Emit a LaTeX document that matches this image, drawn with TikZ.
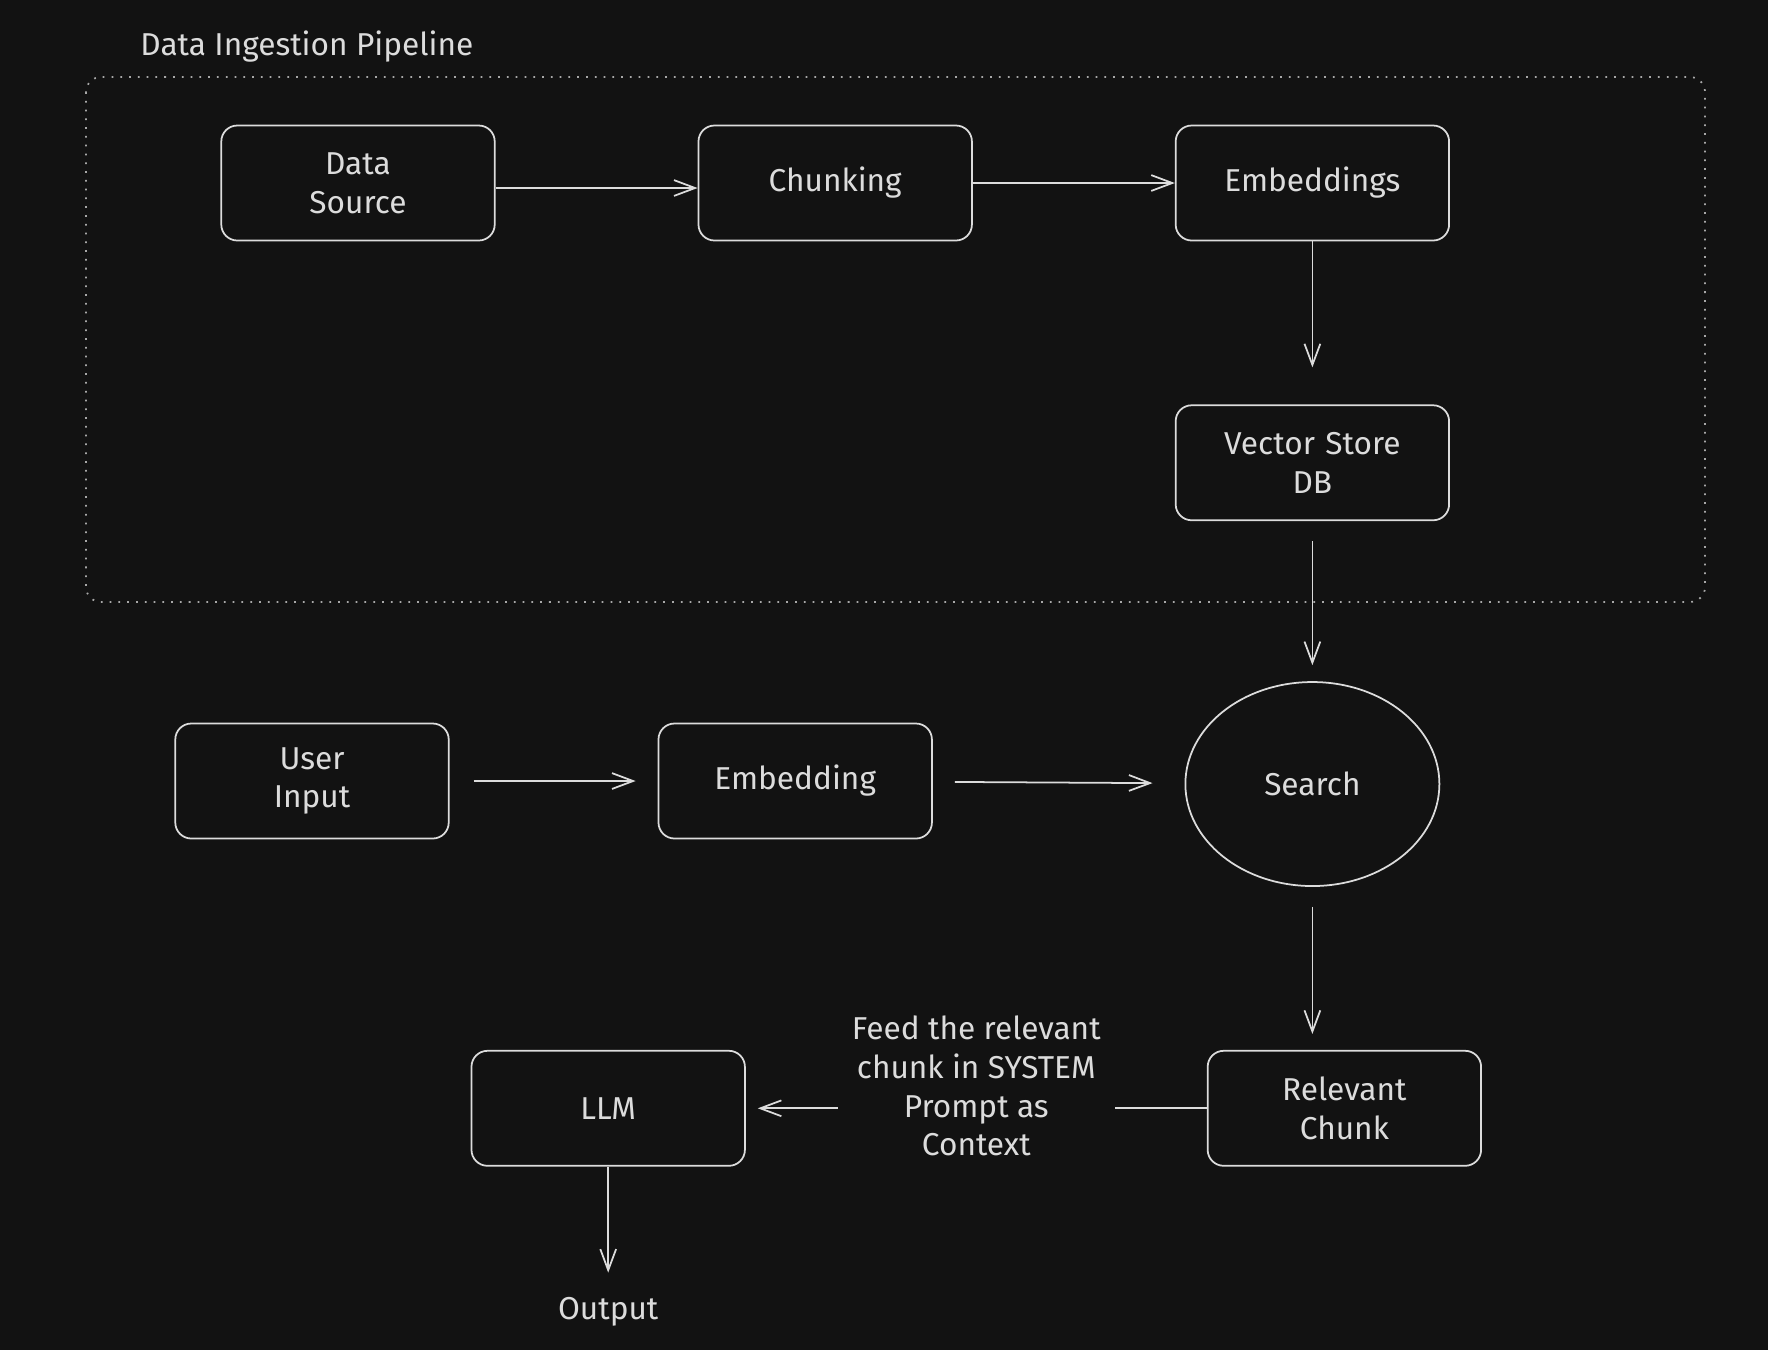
\documentclass[tikz,border=0pt]{standalone}
\usepackage{fontspec}
\setmainfont{Fira Sans}
\usetikzlibrary{positioning,shapes.geometric,arrows.meta}
\definecolor{canvas}{HTML}{121212}
\definecolor{ink}{HTML}{DCDCDC}
\definecolor{frameink}{HTML}{A8A8A8}

\begin{document}
\begin{tikzpicture}[stage/.style={rectangle, draw=ink, rounded corners=0.16cm, line width=0.5pt, text=ink, text width=2.5cm, align=center, minimum width=2.69cm, minimum height=1.15cm, font=\fontsize{9}{11}\selectfont},
    hub/.style={ellipse, draw=ink, line width=0.5pt, text=ink, minimum width=2.54cm, minimum height=2.04cm, font=\fontsize{9}{11}\selectfont},
    plain/.style={text=ink, align=center, font=\fontsize{9}{11}\selectfont},
    flow/.style={draw=ink, line width=0.5pt, -{Straight Barb[length=6pt,width=4.5pt]}},
    node distance=1.63cm and 2.02cm]
        % Canvas
        \fill[canvas] (0,0) rectangle (17.68,-13.5);
        \draw[frameink, dotted, line width=0.5pt, rounded corners=0.15cm] (0.86,-0.77) rectangle (17.05,-6.02);
        \node[plain, anchor=west] (pipetitle) at (1.28,-0.47) {Data Ingestion Pipeline};
        
        % Nodes
        \node[stage] (datasrc) at (3.58,-1.83) {Data\\Source};
        \node[stage, right=of datasrc] (chunking) {Chunking};
        \node[stage, right=of chunking] (embeds) {Embeddings};
        \node[stage, below=of embeds] (vstore) {Vector Store\\DB};
        \node[hub, below=of vstore, yshift=0.03cm] (search) {Search};
        \node[stage, below=of search, xshift=0.32cm] (relchunk) {Relevant\\Chunk};
        
        \node[stage] (userin) at (3.12,-7.81) {User\\Input};
        \node[stage, right=of userin, xshift=0.06cm] (qembed) {Embedding};
        
        \node[stage, left=4.61cm of relchunk] (llm) {LLM};
        \node[plain, below=1.18cm of llm] (output) {Output};
        
        % Arrows
        \draw[flow] ([yshift=-0.05cm]datasrc.east) -- ([yshift=-0.05cm]chunking.west);
        \draw[flow] (chunking) -- (embeds);
        \draw[flow, shorten >=0.37cm] (embeds) -- (vstore);
        \draw[flow, shorten <=0.2cm, shorten >=0.16cm] (vstore) -- (search);
        \draw[flow, shorten <=0.24cm, shorten >=0.22cm] (userin) -- (qembed);
        \draw[flow, shorten <=0.22cm, shorten >=0.32cm] (qembed) -- (search);
        \draw[flow, shorten <=0.2cm, shorten >=0.16cm] (search.south) -- (search.south |- relchunk.north);
        \draw[flow, shorten >=0.12cm] (relchunk) -- node[plain, fill=canvas, minimum width=2.77cm, yshift=0.22cm] (feedlabel) {Feed the relevant\\chunk in SYSTEM\\Prompt as\\Context} (llm);
        \draw[flow, shorten >=0.12cm] (llm) -- (output);
        
\end{tikzpicture}
\end{document}
